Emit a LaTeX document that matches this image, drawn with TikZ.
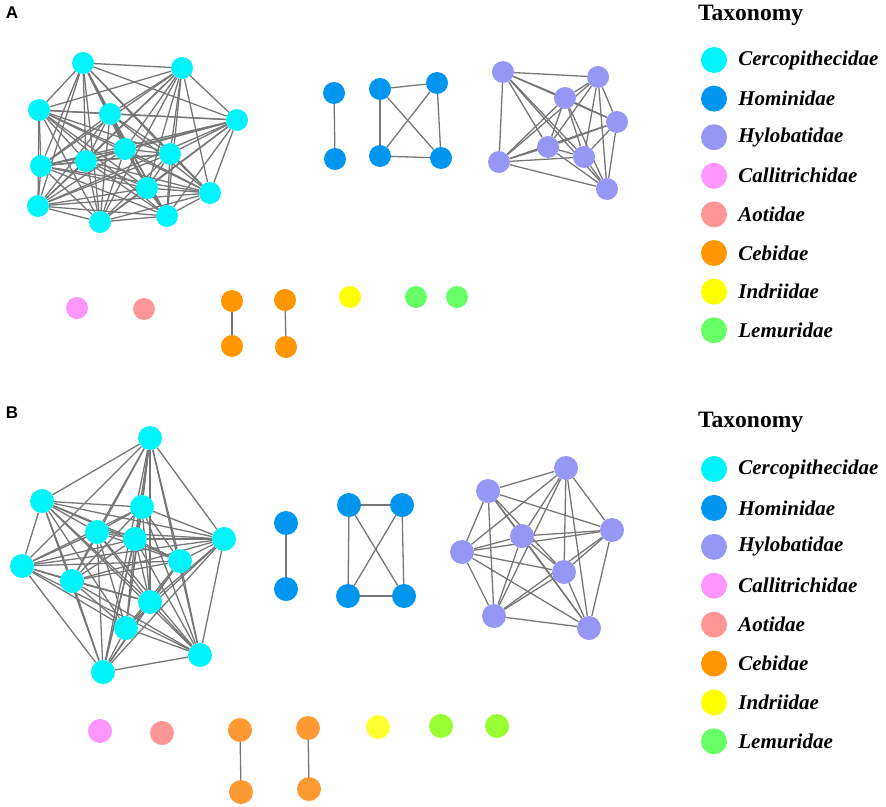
\documentclass[tikz,border=0pt]{standalone}
\usepackage{fontspec}
\setmainfont{Liberation Serif}
\newfontfamily\panelfont{Liberation Sans}
\usetikzlibrary{positioning,backgrounds}

\definecolor{cerco}{RGB}{0,245,250}
\definecolor{homin}{RGB}{0,150,240}
\definecolor{hylob}{RGB}{150,150,245}
\definecolor{calli}{RGB}{255,150,255}
\definecolor{aoti}{RGB}{255,150,150}
\definecolor{cebi}{RGB}{255,150,0}
\definecolor{cebib}{RGB}{255,153,51}
\definecolor{indri}{RGB}{255,255,0}
\definecolor{indrib}{RGB}{255,255,51}
\definecolor{lemur}{RGB}{102,255,102}
\definecolor{lemurb}{RGB}{153,255,51}
\definecolor{edgegray}{RGB}{118,118,118}

\begin{document}
\begin{tikzpicture}[x=1pt,y=-1pt,
  nd/.style={circle,inner sep=0pt,minimum size=22pt},
  ndb/.style={circle,inner sep=0pt,minimum size=24pt},
  ln/.style={draw=edgegray,line width=1.3pt},
  key/.style={circle,inner sep=0pt,minimum size=26pt},
  keytext/.style={anchor=west,inner sep=0pt,font=\bfseries\itshape\fontsize{21}{23}\selectfont},
  title/.style={anchor=west,inner sep=0pt,font=\bfseries\fontsize{23.5}{25}\selectfont},
  panel/.style={font=\panelfont\bfseries\fontsize{17}{18}\selectfont}]
\useasboundingbox (0,0) rectangle (886,806);

% panel A
\node[panel] (labA) at (12,13) {A};
\foreach \n/\x/\y in {1/83/63,2/182/68,3/39/110,4/110/114,5/237/120,6/125/149,7/170/154,
  8/86/161,9/41/166,10/147/188,11/210/193,12/38/206,13/167/216,14/100/222}
  \node[nd,fill=cerco] (a\n) at (\x,\y) {};
\foreach \n/\x/\y in {1/334/93,2/335/159,3/380/89,4/437/83,5/380/156,6/441/158}
  \node[nd,fill=homin] (h\n) at (\x,\y) {};
\foreach \n/\x/\y in {1/503/72,2/598/77,3/565/98,4/617/122,5/548/147,6/584/157,7/499/162,8/607/189}
  \node[nd,fill=hylob] (p\n) at (\x,\y) {};
\node[nd,fill=calli] (ca) at (77,308) {};
\node[nd,fill=aoti] (ao) at (144,309) {};
\node[nd,fill=cebi] (ce1) at (232,301) {};
\node[nd,fill=cebi] (ce2) at (232,346) {};
\node[nd,fill=cebi] (ce3) at (285,300) {};
\node[nd,fill=cebi] (ce4) at (286,347) {};
\node[nd,fill=indri] (in) at (350,297) {};
\node[nd,fill=lemur] (le1) at (416,297) {};
\node[nd,fill=lemur] (le2) at (457,297) {};

\begin{scope}[on background layer]
\foreach \i in {1,...,13}{
  \pgfmathtruncatemacro\k{\i+1}
  \foreach \j in {\k,...,14} \draw[ln] (a\i) -- (a\j);
}
\foreach \i in {1,...,7}{
  \pgfmathtruncatemacro\k{\i+1}
  \foreach \j in {\k,...,8} \draw[ln] (p\i) -- (p\j);
}
\draw[ln] (h1) -- (h2);
\foreach \i/\j in {3/4,3/5,3/6,4/5,4/6,5/6} \draw[ln] (h\i) -- (h\j);
\draw[ln] (ce1) -- (ce2);
\draw[ln] (ce3) -- (ce4);
\end{scope}

\node[title] (ta) at (698,15) {Taxonomy};
\foreach \name/\col [count=\r] in {Cercopithecidae/cerco,Hominidae/homin,Hylobatidae/hylob,
  Callitrichidae/calli,Aotidae/aoti,Cebidae/cebi,Indriidae/indri,Lemuridae/lemur}{
  \node[key,fill=\col] (ka\r) at (714,{60+38.6*(\r-1)}) {};
  \node[keytext,right=11pt of ka\r] (ta\r) {\name};
}

% panel B
\node[panel] (labB) at (12,413) {B};
\foreach \n/\x/\y in {1/150/438,2/42/501,3/142/507,4/97/532,5/135/539,6/224/539,7/180/561,
  8/22/566,9/72/581,10/150/602,11/126/628,12/200/655,13/103/672}
  \node[ndb,fill=cerco] (b\n) at (\x,\y) {};
\foreach \n/\x/\y in {1/286/523,2/286/589,3/349/505,4/402/505,5/348/596,6/404/596}
  \node[ndb,fill=homin] (g\n) at (\x,\y) {};
\foreach \n/\x/\y in {1/566/468,2/488/491,3/612/530,4/522/536,5/462/552,6/564/572,7/494/616,8/589/628}
  \node[ndb,fill=hylob] (q\n) at (\x,\y) {};
\node[ndb,fill=calli] (cb) at (100,731) {};
\node[ndb,fill=aoti] (aob) at (162,733) {};
\node[ndb,fill=cebib] (cf1) at (240,730) {};
\node[ndb,fill=cebib] (cf2) at (241,792) {};
\node[ndb,fill=cebib] (cf3) at (308,728) {};
\node[ndb,fill=cebib] (cf4) at (309,789) {};
\node[ndb,fill=indrib] (inb) at (378,727) {};
\node[ndb,fill=lemurb] (lf1) at (441,726) {};
\node[ndb,fill=lemurb] (lf2) at (497,726) {};

\begin{scope}[on background layer]
\foreach \i in {1,...,12}{
  \pgfmathtruncatemacro\k{\i+1}
  \foreach \j in {\k,...,13} \draw[ln] (b\i) -- (b\j);
}
\foreach \i in {1,...,7}{
  \pgfmathtruncatemacro\k{\i+1}
  \foreach \j in {\k,...,8} \draw[ln] (q\i) -- (q\j);
}
\draw[ln] (g1) -- (g2);
\foreach \i/\j in {3/4,3/5,3/6,4/5,4/6,5/6} \draw[ln] (g\i) -- (g\j);
\draw[ln] (cf1) -- (cf2);
\draw[ln] (cf3) -- (cf4);
\end{scope}

\node[title] (tb) at (698,422) {Taxonomy};
\foreach \name/\col [count=\r] in {Cercopithecidae/cerco,Hominidae/homin,Hylobatidae/hylob,
  Callitrichidae/calli,Aotidae/aoti,Cebidae/cebi,Indriidae/indri,Lemuridae/lemur}{
  \node[key,fill=\col] (kb\r) at (714,{469+38.9*(\r-1)}) {};
  \node[keytext,right=11pt of kb\r] (tb\r) {\name};
}
\end{tikzpicture}
\end{document}
